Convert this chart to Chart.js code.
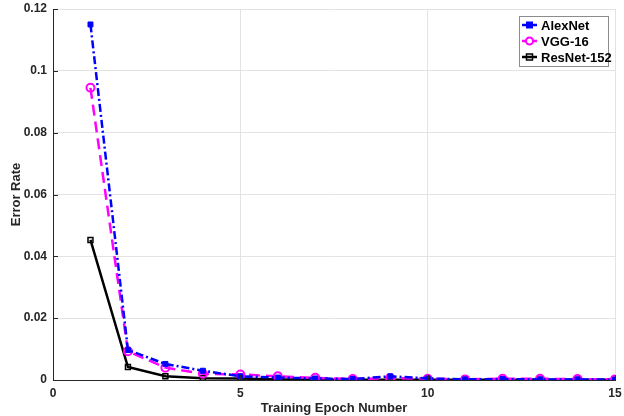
<!DOCTYPE html>
<html><head><meta charset="utf-8">
<script src="https://cdn.jsdelivr.net/npm/chart.js@4/dist/chart.umd.min.js"></script>
<style>html,body{margin:0;padding:0;background:#fff}#wrap{width:624px;height:416px;position:relative}</style>
</head><body><div id="wrap"><canvas id="c" width="624" height="416"></canvas></div>
<script>
const epochs = [1,2,3,4,5,6,7,8,9,10,11,12,13,14,15];
const alexnet = [0.1150,0.0097,0.0052,0.0030,0.0012,0.0008,0.0005,0.0003,0.0012,0.0005,0.0002,0.0003,0.0002,0.0002,0.0001];
const vgg16 = [0.0945,0.0093,0.0040,0.0020,0.0018,0.0012,0.0007,0.0003,0.0006,0.0004,0.0002,0.0004,0.0004,0.0003,0.0002];
const resnet152 = [0.0453,0.0042,0.0012,0.0006,0.0005,0.0002,0.0002,0.0001,0.0001,0.0001,0.0001,0.0001,0.0001,0.0001,0.0001];
const seriesNames = ['AlexNet','VGG-16','ResNet-152'];
const xTitle = 'Training Epoch Number';
const yTitle = 'Error Rate';

const pts = arr => arr.map((v,i)=>({x:epochs[i], y:v}));
const FONT = "'Liberation Sans', Arial, sans-serif";

const innerTicks = {
  id:'innerTicks',
  afterDatasetsDraw(chart){
    const ctx = chart.ctx, a = chart.chartArea;
    ctx.save(); ctx.strokeStyle='#262626'; ctx.lineWidth=1; ctx.setLineDash([]);
    chart.scales.y.ticks.forEach(t=>{
      const p = Math.round(chart.scales.y.getPixelForValue(t.value))+0.5;
      ctx.beginPath(); ctx.moveTo(a.left,p); ctx.lineTo(a.left+5,p); ctx.stroke();
    });
    chart.scales.x.ticks.forEach(t=>{
      const p = Math.round(chart.scales.x.getPixelForValue(t.value))+0.5;
      ctx.beginPath(); ctx.moveTo(p,a.bottom); ctx.lineTo(p,a.bottom-5); ctx.stroke();
    });
    ctx.restore();
  }
};

const legendPlugin = {
  id:'boxLegend',
  afterDraw(chart){
    const ctx = chart.ctx;
    const x0=519, y0=16, w=89, h=50;
    ctx.save();
    ctx.fillStyle='#fff'; ctx.fillRect(x0,y0,w,h);
    ctx.strokeStyle='#8c8c8c'; ctx.lineWidth=1; ctx.strokeRect(x0+0.5,y0+0.5,w,h);
    chart.data.datasets.forEach((ds,i)=>{
      const cy = y0 + 9 + i*16;
      ctx.strokeStyle = ds.borderColor; ctx.lineWidth = 2.5; ctx.setLineDash([]);
      ctx.beginPath(); ctx.moveTo(x0+3,cy); ctx.lineTo(x0+18,cy); ctx.stroke();
      const cx = x0+10.5;
      ctx.lineWidth = ds.pointBorderWidth;
      ctx.strokeStyle = ds.pointBorderColor;
      ctx.fillStyle = ds.pointBackgroundColor;
      if (ds.pointStyle==='circle'){ ctx.beginPath(); ctx.arc(cx,cy,3.5,0,Math.PI*2); ctx.fillStyle='#fff'; ctx.fill(); ctx.stroke(); }
      else { ctx.fillRect(cx-3,cy-3,6,6); ctx.strokeRect(cx-3,cy-3,6,6); }
      ctx.fillStyle='#000'; ctx.font = "bold 13px "+FONT; ctx.textBaseline='middle'; ctx.textAlign='left';
      ctx.fillText(ds.label, x0+22, cy+1);
    });
    ctx.restore();
  }
};

new Chart(document.getElementById('c'), {
  type:'line',
  data:{ datasets:[
    {label:seriesNames[0], data:pts(alexnet), borderColor:'#0000ff', borderWidth:2.5, borderDash:[8,3,2,3],
     pointStyle:'rect', pointRadius:3.5, pointBackgroundColor:'#0000ff', pointBorderColor:'#0000ff', pointBorderWidth:1, tension:0},
    {label:seriesNames[1], data:pts(vgg16), borderColor:'#ff00ff', borderWidth:2.5, borderDash:[11,6],
     pointStyle:'circle', pointRadius:4, pointBackgroundColor:'rgba(255,255,255,0)', pointBorderColor:'#ff00ff', pointBorderWidth:2, tension:0},
    {label:seriesNames[2], data:pts(resnet152), borderColor:'#000000', borderWidth:2.5,
     pointStyle:'rect', pointRadius:3.5, pointBackgroundColor:'rgba(255,255,255,0)', pointBorderColor:'#000000', pointBorderWidth:1.5, tension:0}
  ]},
  options:{
    responsive:false, animation:false, devicePixelRatio:1,
    layout:{padding:{top:9,right:9,left:0,bottom:0}},
    plugins:{legend:{display:false}, tooltip:{enabled:false}},
    scales:{
      x:{type:'linear', min:0, max:15,
        ticks:{stepSize:5, color:'#262626', font:{family:FONT, size:12, weight:'bold'}, padding:6, maxRotation:0},
        grid:{color:'#e3e3e3', drawTicks:false},
        border:{color:'#262626', width:1},
        title:{display:true, text:xTitle, color:'#262626', font:{family:FONT, size:13, weight:'bold'}, padding:{top:3,bottom:0}},
        afterFit(s){ s.height = 36; s.paddingLeft = 0; s.paddingRight = 0; }
      },
      y:{min:0, max:0.12,
        ticks:{stepSize:0.02, color:'#262626', font:{family:FONT, size:12, weight:'bold'}, padding:6,
          callback:v=>String(+v.toFixed(2))},
        grid:{color:'#e3e3e3', drawTicks:false},
        border:{color:'#262626', width:1},
        title:{display:true, text:yTitle, color:'#262626', font:{family:FONT, size:13, weight:'bold'}, padding:{top:9,bottom:0}},
        afterFit(s){ s.width = 53; s.paddingTop = 0; s.paddingBottom = 0; }
      }
    }
  },
  plugins:[innerTicks, legendPlugin]
});
</script></body></html>
